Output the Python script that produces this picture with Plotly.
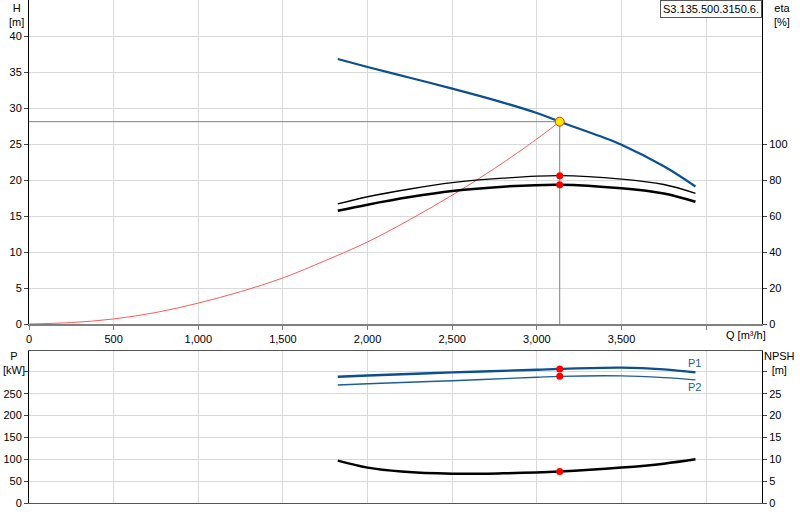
import plotly.graph_objects as go

# pump curve
q_h = [1824, 2000, 2250, 2500, 2750, 3000, 3135, 3371, 3500, 3750, 3937]
h = [36.8, 35.7, 34.2, 32.7, 31.1, 29.3, 28.1, 26.1, 24.9, 21.9, 19.1]

q_eta = [1824, 2000, 2250, 2500, 2800, 3135, 3500, 3750, 3937]
eta_upper = [66.7, 70.7, 75.0, 78.5, 81.0, 82.4, 80.5, 77.5, 72.6]
eta_lower = [62.9, 66.3, 70.5, 73.9, 76.3, 77.4, 75.4, 72.5, 67.9]

q_sys = [0, 250, 500, 750, 1000, 1250, 1500, 1750, 2000, 2250, 2500, 2750, 3000, 3135]
h_sys = [0, 0.2, 0.7, 1.6, 2.9, 4.5, 6.4, 8.8, 11.4, 14.5, 17.9, 21.6, 25.7, 28.1]

q_p = [1824, 2000, 2500, 3000, 3135, 3500, 3750, 3937]
p1 = [289, 292, 299, 305, 307, 310, 306, 299]
p2 = [270, 273, 280, 288, 290, 291, 287, 282]

q_npsh = [1824, 2000, 2200, 2500, 2800, 3135, 3500, 3750, 3937]
npsh = [9.7, 8.1, 7.2, 6.7, 6.8, 7.2, 8.1, 9.0, 10.0]

op_q = 3135
op_h = 28.1
op_eta = [82.4, 77.4]
op_p = [307, 290]
op_npsh = 7.2

q_ticks = [0, 500, 1000, 1500, 2000, 2500, 3000, 3500, 4000]
q_labels = ["0", "500", "1,000", "1,500", "2,000", "2,500", "3,000", "3,500", ""]

blue = "#0b4f8f"
grid = "#d9d9d9"
fnt = dict(family="Liberation Sans, Arial, sans-serif", size=11, color="#000")

fig = go.Figure()

# top: H and eta
fig.add_trace(go.Scatter(x=[0, op_q], y=[op_h, op_h], mode="lines",
                         line=dict(color="#808080", width=1), xaxis="x", yaxis="y"))
fig.add_trace(go.Scatter(x=[op_q, op_q], y=[0, op_h], mode="lines",
                         line=dict(color="#808080", width=1), xaxis="x", yaxis="y"))
fig.add_trace(go.Scatter(x=q_sys, y=h_sys, mode="lines", line=dict(color="#ff5a5a", width=1),
                         line_shape="spline", xaxis="x", yaxis="y"))
fig.add_trace(go.Scatter(x=q_eta, y=eta_upper, mode="lines", line=dict(color="#000", width=1.3),
                         line_shape="spline", xaxis="x", yaxis="y2"))
fig.add_trace(go.Scatter(x=q_eta, y=eta_lower, mode="lines", line=dict(color="#000", width=2.5),
                         line_shape="spline", xaxis="x", yaxis="y2"))
fig.add_trace(go.Scatter(x=q_h, y=h, mode="lines", line=dict(color=blue, width=2.2),
                         line_shape="spline", xaxis="x", yaxis="y"))
fig.add_trace(go.Scatter(x=[op_q, op_q], y=op_eta, mode="markers",
                         marker=dict(color="#ff0000", size=7), xaxis="x", yaxis="y2"))
fig.add_trace(go.Scatter(x=[op_q], y=[op_h], mode="markers",
                         marker=dict(color="#ffe600", size=9, line=dict(color="#e03000", width=1)),
                         xaxis="x", yaxis="y"))

# bottom: P and NPSH
fig.add_trace(go.Scatter(x=q_p, y=p1, mode="lines", line=dict(color=blue, width=2.4),
                         line_shape="spline", xaxis="x2", yaxis="y3"))
fig.add_trace(go.Scatter(x=q_p, y=p2, mode="lines", line=dict(color="#1f5d99", width=1.4),
                         line_shape="spline", xaxis="x2", yaxis="y3"))
fig.add_trace(go.Scatter(x=q_npsh, y=npsh, mode="lines", line=dict(color="#000", width=2.5),
                         line_shape="spline", xaxis="x2", yaxis="y4"))
fig.add_trace(go.Scatter(x=[op_q, op_q], y=op_p, mode="markers",
                         marker=dict(color="#ff0000", size=7), xaxis="x2", yaxis="y3"))
fig.add_trace(go.Scatter(x=[op_q], y=[op_npsh], mode="markers",
                         marker=dict(color="#ff0000", size=7), xaxis="x2", yaxis="y4"))

xdom = [29 / 800, 762 / 800]
top_dom = [196 / 520, 1.0]
bot_dom = [17 / 520, 169 / 520]

axis_common = dict(ticks="outside", ticklen=4, tickfont=fnt, zeroline=False, automargin=False)

fig.update_layout(
    width=800, height=520,
    margin=dict(l=0, r=0, t=0, b=0),
    paper_bgcolor="white", plot_bgcolor="white",
    showlegend=False,
    font=fnt,
    xaxis=dict(domain=xdom, range=[0, 4330], tickvals=q_ticks, ticktext=q_labels,
               showgrid=True, gridcolor=grid, showline=True, linecolor="#808080", linewidth=2,
               mirror=True, anchor="y", tickcolor="#808080", **axis_common),
    yaxis=dict(domain=top_dom, range=[0, 45], tickvals=list(range(0, 45, 5)),
               showgrid=True, gridcolor=grid, showline=True, linecolor="#000", linewidth=1,
               anchor="x", **axis_common),
    yaxis2=dict(overlaying="y", side="right", range=[0, 180], tickvals=list(range(0, 120, 20)),
                showgrid=False, showline=True, linecolor="#000", linewidth=1,
                anchor="x", **axis_common),
    xaxis2=dict(domain=xdom, matches="x", range=[0, 4330], tickvals=q_ticks, showticklabels=False,
                showgrid=True, gridcolor=grid, showline=True, linecolor="#555", linewidth=1,
                mirror=True, anchor="y3", ticks="", automargin=False),
    yaxis3=dict(domain=bot_dom, range=[0, 348], tickvals=list(range(0, 350, 50)),
                ticktext=["0", "50", "100", "150", "200", "250", ""],
                showgrid=True, gridcolor=grid, showline=True, linecolor="#000", linewidth=1,
                anchor="x2", **axis_common),
    yaxis4=dict(overlaying="y3", side="right", range=[0, 34.8], tickvals=list(range(0, 35, 5)),
                ticktext=["0", "5", "10", "15", "20", "25", ""],
                showgrid=False, showline=True, linecolor="#000", linewidth=1,
                anchor="x2", **axis_common),
)

def label(text, x, y, xanchor="center", **kw):
    fig.add_annotation(text=text, x=x, y=y, xref="paper", yref="paper", showarrow=False,
                       xanchor=xanchor, yanchor="top", font=fnt, align="center", **kw)

label("H<br>[m]", 16 / 800, 1.0)
label("eta<br>[%]", 782 / 800, 1.0)
label("P<br>[kW]", 14 / 800, 1 - 348 / 520)
label("NPSH<br>[m]", 779 / 800, 1 - 348 / 520)
label("Q [m³/h]", 768 / 800, 1 - 327 / 520, xanchor="right")
fig.add_annotation(text="S3.135.500.3150.6.", x=762 / 800, y=1.0, xref="paper", yref="paper",
                   showarrow=False, xanchor="right", yanchor="top", font=fnt,
                   bordercolor="#555", borderwidth=1, borderpad=2, bgcolor="white")

fig.add_annotation(text="P1", x=3932, y=321, xref="x2", yref="y3", showarrow=False,
                   font=dict(family=fnt["family"], size=11, color="#1f5d99"))
fig.add_annotation(text="P2", x=3932, y=266, xref="x2", yref="y3", showarrow=False,
                   font=dict(family=fnt["family"], size=11, color="#1f5d99"))

# page has a default 8px body margin; drop it so the chart sits at 0,0
fig.write_html("out.html", config={"displayModeBar": False},
               post_script="document.body.style.margin='0';")
